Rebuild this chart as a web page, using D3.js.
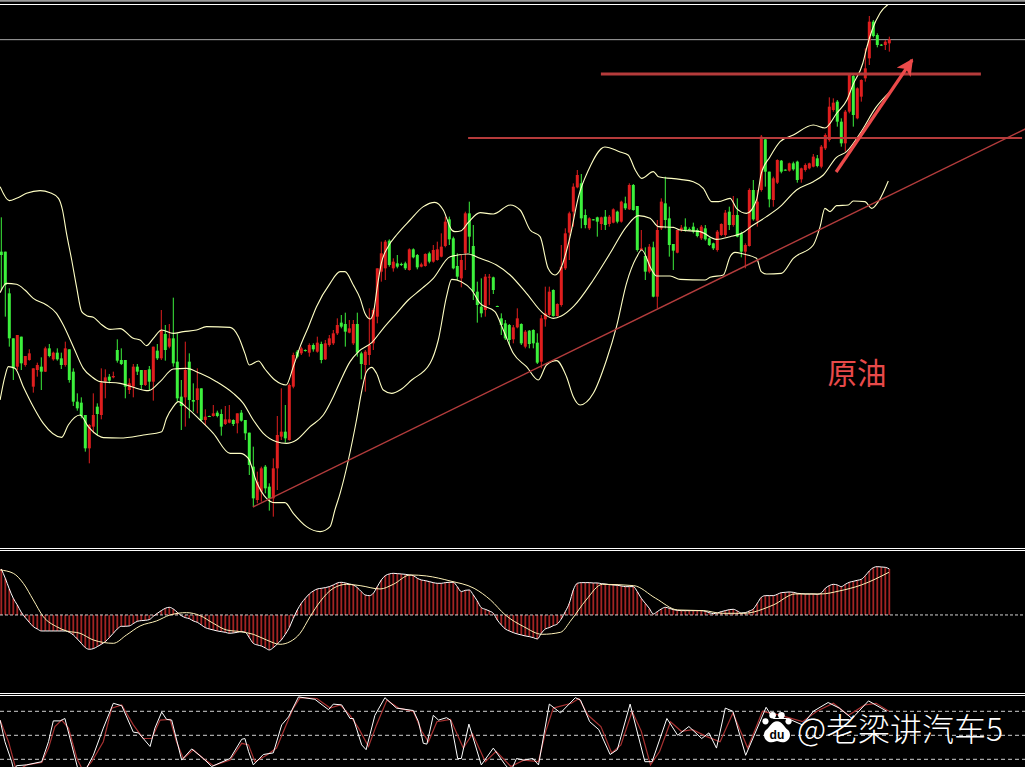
<!DOCTYPE html>
<html><head><meta charset="utf-8">
<script src="https://cdnjs.cloudflare.com/ajax/libs/d3/7.8.5/d3.min.js"></script>
<style>html,body{margin:0;padding:0;background:#000;overflow:hidden}svg{display:block}</style>
</head><body><div id="chart"></div>
<script>
// Price readings are in chart units measured downward from the top of the scale (no axis is printed on the picture).
// candle row: direction (1 up/red, 0 down/green), high, body top, body bottom, low
const candleRows = [
[0,142,245,255,360],[0,245,245,345,440],[0,355,370,505,530],[0,505,505,595,630],[1,495,495,590,600],[0,500,500,580,600],[1,558,558,585,590],[1,538,550,570,572],[1,595,595,650,668],[1,578,585,600,620],
[0,562,590,605,660],[1,530,535,605,606],[0,522,535,558,562],[1,545,548,568,572],[0,535,548,568,572],[0,548,565,585,597],[1,515,535,585,590],[0,538,538,630,638],[0,595,605,695,708],[0,670,695,715,722],
[0,682,698,738,745],[0,735,735,835,845],[1,762,765,835,880],[1,670,735,770,790],[0,700,710,732,795],[1,595,638,735,748],[1,598,622,635,685],[0,612,620,632,640],[1,605,618,622,625],[0,508,540,572,578],
[0,535,570,582,585],[0,570,570,650,685],[1,625,640,660,672],[1,582,590,650,682],[0,582,590,605,615],[0,600,600,645,658],[1,600,600,645,648],[0,588,598,635,660],[1,530,530,635,692],[0,522,542,565,570],
[1,420,480,565,570],[0,465,492,540,572],[1,462,505,530,535],[0,383,505,580,590],[0,490,575,685,695],[0,630,680,708,780],[1,515,600,682,770],[0,550,575,690,745],[0,640,690,695,725],[1,595,655,690,730],
[0,655,655,750,755],[1,718,740,750,765],[0,737,738,740,741],[1,705,730,738,740],[0,722,728,738,742],[0,718,732,770,797],[1,708,748,762,765],[1,705,748,758,760],[0,748,750,762,768],[1,730,730,760,790],
[0,720,728,752,755],[0,750,750,790,810],[0,788,788,885,915],[0,830,890,985,1010],[1,905,935,990,1000],[1,890,895,965,995],[0,885,890,955,970],[0,940,950,985,1022],[1,865,895,985,1040],[1,738,795,895,960],
[1,655,785,800,810],[0,705,785,805,818],[1,640,645,810,812],[1,548,555,650,655],[0,540,545,560,565],[1,530,535,550,555],[0,538,540,542,545],[1,520,525,548,560],[0,520,525,538,545],[1,500,518,545,548],
[0,515,522,570,580],[1,510,520,568,570],[1,495,505,525,530],[1,480,490,520,525],[1,445,465,490,495],
[0,435,458,470,475],[0,428,462,485,530],[1,450,475,488,490],[1,450,462,520,525],[0,428,462,548,560],[0,545,550,582,628],[1,540,545,585,665],[1,415,525,555,585],[1,415,420,520,540],[1,295,295,440,460],
[1,215,250,305,335],[1,210,215,295,330],[0,208,212,285,290],[1,265,275,295,305],[0,255,280,290,295],[0,278,282,284,288],[0,275,280,295,300],[1,235,238,300,302],[0,235,238,262,265],[0,252,255,292,298],
[1,278,283,290,292],[1,250,252,288,290],[0,245,250,275,280],[1,225,240,275,278],[1,215,238,270,272],[1,190,230,260,262],[1,140,155,228,232],[0,140,148,208,225],[0,200,205,295,298],[0,250,288,320,330],
[1,255,270,325,352],[1,125,130,250,300],[0,95,130,200,250],[0,165,228,365,390],[0,335,365,405,458],[0,325,410,430,442],[1,312,320,420,440],[1,312,320,322,405],[0,320,322,360,372],[0,407,408,410,411],
[0,430,445,465,495],[0,450,460,505,510],[0,462,465,510,525],[1,465,472,508,520],[1,415,445,472,475],[0,460,462,520,525],[1,480,485,530,535],[0,480,482,522,535],[0,478,480,520,535],[0,490,518,578,582],
[1,435,445,575,595],[1,350,430,448,470],[1,350,365,435,440],[0,358,360,438,440],[1,400,402,438,440],[1,225,290,405,410],[1,175,190,295,300],[1,125,130,188,270],[1,40,50,125,170],[1,0,15,52,55],
[0,12,40,145,175],[0,118,135,165,175],[1,142,145,175,180],[0,147,148,150,151],[0,140,142,155,200],[1,140,142,162,180],[0,120,140,165,180],[1,135,140,162,170],[1,115,118,158,160],[0,122,125,155,160],
[1,92,95,155,158],[0,80,100,115,120],[1,40,45,118,120],[0,42,45,120,122],[0,108,108,240,245],[1,180,235,240,240],[0,232,258,305,330],[1,222,230,305,310],[0,215,232,380,382],[1,150,180,380,415],
[1,85,95,175,180],[0,20,100,150,175],[0,110,145,225,260],[0,222,222,242,300],[1,180,180,248,250],
[1,165,173,180,185],[0,145,170,180,185],[0,172,177,179,182],[0,158,170,185,190],[0,175,180,198,202],[1,165,170,205,210],[0,165,175,208,212],[0,202,205,225,228],[0,218,220,235,240],[1,180,185,240,245],
[1,160,162,195,198],[1,120,128,195,200],[0,110,125,165,180],[1,78,135,165,170],[0,85,135,200,202],[0,185,190,245,262],[1,220,225,245,295],[1,55,60,228,230],[0,30,60,148,152],[1,60,95,152,170],
[1,-105,-100,60,65],[0,-98,-92,5,50],[0,5,5,88,112],[1,20,25,90,110],[1,-32,-30,38,42],[0,-30,-28,5,10],[0,-2,-1,1,2],[1,-22,-20,2,5],[0,-25,-20,-2,2],[0,-28,-25,30,38],
[1,-7,-5,28,38],[1,-20,-15,0,5],[1,-22,-20,-5,-2],[1,-48,-40,-10,-8],[0,-45,-35,-12,-8],[1,-75,-70,-10,-5],[1,-110,-105,-65,-60],[1,-218,-190,-90,-85],[1,-215,-202,-180,-175],[0,-210,-205,-145,-130],
[0,-155,-145,-80,-70],[1,-180,-175,-80,-55],[1,-288,-285,-175,-170],[0,-285,-282,-165,-130],[1,-248,-245,-155,-152],[1,-272,-270,-220,-205],[1,-365,-305,-275,-265],[1,-462,-445,-335,-315],[0,-450,-445,-402,-398],[0,-410,-405,-375,-368],
[0,-378,-376,-374,-372],[1,-390,-385,-375,-360],[1,-400,-392,-380,-355]
];
// Bollinger bands: [bar position, level]
const bollUpper = [[-0.3,50],[2,92],[3.8,85],[6.3,70],[9.7,62],[12.2,68],[14.3,85],[15.3,120],[16.3,190],[17.6,270],[18.8,350],[20.1,425],[21.5,438],[23,442],[24.7,460],[27.2,478],[29.7,476],[33,505],[34.7,510],[36.3,527],[38,505],[40.1,480],[43,490],[45.5,485],[48.8,480],[51.3,470],[57.2,472],[59.3,500],[60.9,550],[62,585],[64.3,573],[65.9,597],[68.4,630],[71.2,645],[73,590],[74.7,530],[76.8,470],[78.8,410],[82.2,340],[84.7,305],[85.9,305],[88,345],[89.7,385],[90.9,430],[92.2,447],[93,430],[94,350],[95,280],[96.7,230],[98.8,195],[102.2,150],[105.5,110],[108.4,97],[110.5,120],[112.6,180],[113.4,185],[115,182],[116.7,158],[119.7,128],[123,132],[127.2,105],[129.7,120],[132.2,180],[134.7,200],[136.7,295],[138.4,315],[139.7,300],[142.2,200],[144.3,80],[146.8,0],[150.9,-69],[154.7,-54],[156.7,-45],[158.5,0],[160.1,25],[163,5],[164.3,20],[169.7,28],[173,35],[175.5,55],[177.6,95],[179.3,95],[182.2,85],[183.8,115],[186.3,130],[188.8,90],[190,10],[192.2,-40],[194.7,-85],[198,-105],[203,-135],[205.9,-126],[208.9,-171],[211.4,-210],[212.9,-255],[215.4,-321],[216.4,-369],[217.7,-420],[219.7,-471],[222.2,-501]];
const bollMiddle = [[-0.3,368],[1.3,340],[3.8,343],[5.9,360],[8,385],[11.3,405],[13.8,430],[15.5,465],[18,530],[20.5,595],[22.6,620],[24.7,635],[29.7,640],[33,652],[36.8,662],[39.7,635],[43,597],[46.3,595],[49.7,610],[53.8,635],[58,670],[60.5,700],[63,750],[65.5,790],[68.8,815],[71.3,820],[73.8,810],[77.2,770],[80.5,735],[83,680],[84.7,635],[87.2,575],[89.3,545],[92.6,518],[95.5,475],[98.8,430],[101.75,390],[104.7,360],[108,325],[112.2,260],[116.7,252],[119.7,265],[123.8,285],[127.2,315],[131.3,370],[135.5,430],[138,445],[140,438],[143,410],[148,330],[152.2,250],[156.3,170],[159.3,137],[162.2,145],[164.3,170],[168,172],[169.7,180],[174.7,185],[178.8,208],[182.2,200],[185.1,190],[188,165],[191.3,140],[194.7,110],[198.8,60],[203,35],[205.5,15],[208.8,-38],[211.3,-55],[214.7,-110],[218.8,-190],[222.2,-235]];
const bollLower = [[-0.3,690],[0.9,620],[1.75,590],[3.4,595],[5.5,650],[8,710],[10.5,760],[15.1,802],[16.75,765],[19.7,735],[21.75,770],[24.25,797],[25.5,803],[29.7,804],[35.5,795],[40.1,785],[41.3,745],[43,710],[44.25,695],[46.3,712],[49.7,750],[53,790],[57.2,850],[59.7,850],[61.75,865],[63.8,935],[66.3,985],[68.4,998],[70.9,998],[73,1030],[76.3,1070],[79.7,1085],[82.2,1070],[83.4,1020],[84.7,970],[88.8,750],[90,670],[91.3,605],[92.6,592],[93.8,610],[95.5,660],[97.6,670],[99.7,660],[102.6,630],[107.2,580],[109.25,510],[111.3,380],[112.6,328],[115,335],[117.6,360],[119.7,400],[123.4,425],[125.5,480],[128,550],[131.3,590],[134.25,630],[136.3,585],[138.8,572],[141.3,620],[143,680],[144.7,705],[148,670],[151.3,570],[153.8,470],[156.3,340],[158.8,262],[160.1,240],[162.6,300],[163.8,318],[167.2,318],[169.7,328],[175.9,330],[177.2,322],[180.5,315],[182.2,260],[183.4,247],[185.5,252],[188.8,265],[190,305],[191.3,312],[195,310],[198,265],[203,225],[204.7,170],[205.9,115],[207.2,125],[208.8,107],[211.75,105],[213,93],[215.9,95],[217.6,115],[219.25,95],[221.75,33]];
// Drawn annotations: [bar position, level]
const trendLine = [[62.9,1011],[256,-123]];
const resistanceUpper = [[149.9,-288],[244.9,-288]];
const resistanceLower = [[116.7,-96],[255.2,-96]];
const riseArrow = [[208.7,6],[227.7,-330]];
const lastPriceLevel = -391;
// MACD: one histogram value per bar (also the fast line), slow line as [bar position, value]
const macdBars = [138,110,78,50,30,8,-8,-22,-35,-42,-48,-48,-48,-48,-48,-48,-48,-52,-60,-72,-85,-98,-103,-101,-95,-88,-80,-68,-55,-42,-34,-34,-33,-26,-19,-17,-16,-14,-4,5,13,20,23,18,8,-2,-8,-11,-18,-22,-30,-38,-42,-45,-48,-50,-52,-55,-54,-52,-50,-52,-68,-85,-90,-93,-99,-105,-98,-87,-75,-58,-38,-10,15,35,50,63,72,78,80,82,85,90,96,98,96,93,90,82,70,60,58,65,85,105,118,123,125,124,123,122,120,118,110,105,103,100,97,95,95,97,98,
98,85,70,74,75,60,42,22,17,12,5,-15,-30,-42,-48,-53,-57,-60,-63,-65,-68,-72,-55,-42,-38,-32,-27,-12,10,35,75,95,97,97,97,96,96,94,93,91,90,89,87,85,85,85,70,50,35,20,3,10,18,23,20,16,14,13,13,13,13,13,13,11,7,4,6,10,13,16,17,12,6,7,12,18,35,53,58,58,58,62,67,68,69,68,65,64,63,63,63,62,66,80,88,92,90,85,92,98,101,104,107,118,132,142,145,144,143,138];
const macdSlow = [[-0.3,135],[3,125],[5.5,95],[8,45],[10.5,-5],[13.8,-35],[16.3,-48],[19.7,-55],[23,-75],[28,-85],[31.3,-60],[34.7,-33],[38.8,-18],[42.2,0],[46.3,7],[49.7,-2],[53,-25],[56.3,-45],[59.7,-50],[63,-58],[66.3,-75],[69.7,-88],[72.2,-80],[74.7,-55],[77.2,-5],[79.7,40],[83,80],[86.3,92],[89.7,88],[94.7,78],[98,92],[102.2,120],[106.3,117],[112.2,102],[118.2,80],[122.3,45],[126,0],[130.6,-35],[135.2,-58],[139.8,-52],[142.5,-15],[146.2,45],[150.3,92],[158.1,88],[163.6,50],[169.1,15],[175.6,13],[180.2,5],[185.6,5],[193,30],[198.5,63],[204.9,63],[209.5,72],[215,90],[221.9,128]];
// Stochastic oscillator: [bar position, value]
const stochK = [[-0.3,69],[0.9,42],[2.6,17],[3.2,5],[3.8,12],[6.3,13],[10.1,17],[11.8,42],[13,68],[14.7,68],[15.9,71],[17.6,38],[19.3,5],[20.9,5],[23,25],[25.5,59],[28,90],[30.1,87],[33,54],[34.3,53],[37.2,36],[38.4,59],[40.1,79],[41.3,70],[42.6,69],[45.1,19],[47.6,33],[50.5,21],[52.6,11],[57.2,21],[60.1,45],[60.9,46],[61.8,30],[63,13],[65.5,26],[68,28],[70.1,63],[71.8,73],[74.3,98],[78.4,95],[81.8,82],[83,89],[85.1,88],[87.2,71],[88,71],[90.1,38],[91.2,32],[93.4,75],[95.9,97],[98.8,84],[103,81],[104.3,67],[105.5,40],[106.4,39],[108,75],[109.3,69],[111.3,72],[112.3,69],[114.1,21],[115,21],[116.9,64],[120,13],[123,34],[126,13],[127.4,5],[128.8,21],[130.6,19],[132.9,21],[134.3,13],[137,89],[139.8,78],[143.5,97],[144.8,94],[147.1,67],[149.4,57],[152.2,26],[154,32],[157.2,89],[160.9,17],[162.7,17],[166.4,71],[169.1,50],[171.9,61],[175.1,46],[176.9,53],[178.8,34],[181,84],[182.9,80],[186.1,25],[191.2,85],[193,71],[196.6,71],[200.3,63],[203,80],[206.7,91],[209.5,84],[212.7,71],[216.8,93],[221.4,80]];
const stochD = [[-0.3,69],[1.8,42],[3.8,5],[6.3,13],[10.1,16],[11.8,34],[13.4,61],[15.1,69],[16.8,59],[18.9,21],[20.5,5],[22.6,17],[25.5,42],[27.6,84],[30.1,88],[33,63],[35.5,46],[37.6,46],[39.7,69],[42.2,70],[43.8,42],[45.5,21],[48,32],[50.5,21],[53,12],[57.2,19],[60.1,40],[61.8,38],[63.4,17],[66.3,25],[68.8,34],[70.9,59],[73,84],[74.7,97],[78.9,96],[82.2,84],[84.7,88],[87.2,75],[89.3,59],[91.8,36],[93.8,63],[96.4,94],[99.3,84],[103,80],[105.1,55],[106.8,42],[108.9,67],[112.3,70],[115.5,34],[117.8,52],[121,17],[123.7,30],[127.4,11],[130.6,19],[134.3,17],[136.1,55],[138,84],[142.5,90],[144.4,96],[146.7,75],[149.9,61],[152.6,28],[154.9,38],[157.7,80],[160,55],[162.3,13],[164.6,30],[167.3,67],[170,55],[172.8,57],[176.5,48],[179.7,42],[182.9,78],[186.6,34],[190.3,80],[194.8,75],[200.3,67],[203.9,80],[208,90],[211.8,75],[215.9,88],[218.7,90],[221.9,80]];
const stochGuides = [80,50,20];
const macdGuides = [0];
const chartLabel = "原油";
const watermark = "@老梁讲汽车5";

const W = 1025, H = 767;
const RED = "#e01e1e", GREEN = "#3cf03c", BAND = "#ffffc4";
const svg = d3.select("#chart").append("svg").attr("width", W).attr("height", H).style("background", "#000");
const x = d3.scaleLinear().domain([0, 256]).range([1.3, 1025.3]);
const yPrice = d3.scaleLinear().domain([-510, 1134]).range([0, 548]);
const yMacd = d3.scaleLinear().domain([-100, 200]).range([648.3, 548.3]);
const yStoch = d3.scaleLinear().domain([0, 100]).range([775.3, 695.3]);

const defs = svg.append("defs");
function clip(id, y0, y1) { defs.append("clipPath").attr("id", id).append("rect").attr("x", 0).attr("y", y0).attr("width", W).attr("height", y1 - y0); }
clip("cPrice", 5, 548); clip("cMacd", 551, 693); clip("cStoch", 696, 767);
defs.append("marker").attr("id", "head").attr("viewBox", "0 0 10 10").attr("refX", 9).attr("refY", 5)
  .attr("markerWidth", 5.2).attr("markerHeight", 5.2).attr("markerUnits", "strokeWidth").attr("orient", "auto")
  .append("path").attr("d", "M0,0 L10,5 L0,10 L2.5,5 Z").attr("fill", "#ec4a4a");

// Frame and separators
const frameY = [0.8, 4.5, 548.5, 550.5, 693.5, 695.5];
svg.append("g").selectAll("line").data(frameY).join("line")
  .attr("x1", 0).attr("x2", W).attr("y1", d => d).attr("y2", d => d)
  .attr("stroke", (d, i) => i === 0 ? "#999" : "#fff").attr("stroke-width", (d, i) => i === 0 ? 2 : 1);

// Price panel
const gP = svg.append("g").attr("clip-path", "url(#cPrice)");
gP.append("line").attr("x1", 0).attr("x2", W).attr("y1", yPrice(lastPriceLevel)).attr("y2", yPrice(lastPriceLevel))
  .attr("stroke", "#a8a8a8").attr("stroke-width", 1);
const c = gP.append("g").selectAll("g").data(candleRows).join("g");
c.append("line").attr("x1", (d, i) => x(i)).attr("x2", (d, i) => x(i))
  .attr("y1", d => yPrice(d[1])).attr("y2", d => yPrice(d[4]))
  .attr("stroke", d => d[0] ? RED : GREEN).attr("stroke-width", 1);
c.append("rect").attr("x", (d, i) => x(i) - 1.5).attr("width", 3)
  .attr("y", d => yPrice(d[2])).attr("height", d => Math.max(1, yPrice(d[3]) - yPrice(d[2])))
  .attr("fill", d => d[0] ? RED : GREEN);

const pl = d3.line().x(d => x(d[0])).y(d => yPrice(d[1]));
const plSmooth = d3.line().curve(d3.curveMonotoneX).x(d => x(d[0])).y(d => yPrice(d[1]));
[bollUpper, bollMiddle, bollLower].forEach(s =>
  gP.append("path").attr("d", plSmooth(s)).attr("fill", "none").attr("stroke", BAND).attr("stroke-width", 1.1));

gP.append("path").attr("d", pl(trendLine)).attr("fill", "none").attr("stroke", "#b33c3c").attr("stroke-width", 1.4);
gP.append("path").attr("d", pl(resistanceUpper)).attr("fill", "none").attr("stroke", "#b53b3b").attr("stroke-width", 3);
gP.append("path").attr("d", pl(resistanceLower)).attr("fill", "none").attr("stroke", "#b53b3b").attr("stroke-width", 2.2);
gP.append("path").attr("d", pl(riseArrow)).attr("fill", "none").attr("stroke", "#ec4a4a").attr("stroke-width", 3.2).attr("marker-end", "url(#head)");

svg.append("text").attr("x", 857).attr("y", 383.5).attr("text-anchor", "middle")
  .style("font-family", "'Noto Sans CJK SC'").style("font-size", "29.5px").attr("fill", "#e84a4a").text(chartLabel);

// MACD panel
const gM = svg.append("g").attr("clip-path", "url(#cMacd)");
gM.append("g").selectAll("rect").data(macdBars).join("rect")
  .attr("x", (d, i) => x(i) - 0.9).attr("width", 1.8)
  .attr("y", d => Math.min(yMacd(d), yMacd(0))).attr("height", d => Math.abs(yMacd(d) - yMacd(0)))
  .attr("fill", "#a32323");
gM.selectAll("line.guide").data(macdGuides).join("line").attr("class", "guide")
  .attr("x1", 0).attr("x2", W).attr("y1", d => yMacd(d)).attr("y2", d => yMacd(d))
  .attr("stroke", "#e8e8e8").attr("stroke-width", 0.9).attr("stroke-dasharray", "3 2");
gM.append("path").attr("d", d3.line().curve(d3.curveMonotoneX).x((d, i) => x(i)).y(d => yMacd(d))(macdBars))
  .attr("fill", "none").attr("stroke", "#ffffff").attr("stroke-width", 1);
gM.append("path").attr("d", d3.line().curve(d3.curveMonotoneX).x(d => x(d[0])).y(d => yMacd(d[1]))(macdSlow))
  .attr("fill", "none").attr("stroke", "#fff2b8").attr("stroke-width", 1);

// Stochastic panel
const gS = svg.append("g").attr("clip-path", "url(#cStoch)");
gS.selectAll("line").data(stochGuides).join("line")
  .attr("x1", 0).attr("x2", W).attr("y1", d => yStoch(d)).attr("y2", d => yStoch(d))
  .attr("stroke", "#e8e8e8").attr("stroke-width", 0.9).attr("stroke-dasharray", "4 3");
const sl = d3.line().x(d => x(d[0])).y(d => yStoch(d[1]));
gS.append("path").attr("d", sl(stochD)).attr("fill", "none").attr("stroke", "#a83232").attr("stroke-width", 1.2);
gS.append("path").attr("d", sl(stochK)).attr("fill", "none").attr("stroke", "#ffffff").attr("stroke-width", 1);

// Watermark
const wm = svg.append("g");
const paw = wm.append("g").attr("transform", "translate(777,729) scale(1.1)").attr("fill", "#fff");
[[-10.5,-7,2.8],[-4,-12.5,3],[4,-12.5,3],[10.5,-7,2.8]].forEach(p => paw.append("circle").attr("cx", p[0]).attr("cy", p[1]).attr("r", p[2]));
paw.append("path").attr("d", "M0,-7 C5,-7 6,-2 10,1 C14,5 11,12 5,12 C2,12 1,11 0,11 C-1,11 -2,12 -5,12 C-11,12 -14,5 -10,1 C-6,-2 -5,-7 0,-7 Z");
paw.append("text").attr("x", 0).attr("y", 9).attr("text-anchor", "middle").attr("fill", "#000")
  .style("font-family", "'Liberation Sans'").style("font-size", "11px").style("font-weight", "bold").text("du");
wm.append("text").attr("x", 797).attr("y", 740.5)
  .style("font-family", "'Noto Sans CJK SC'").style("font-size", "32px").style("font-weight", "300").attr("fill", "#fff").text(watermark);
</script>
</body></html>
